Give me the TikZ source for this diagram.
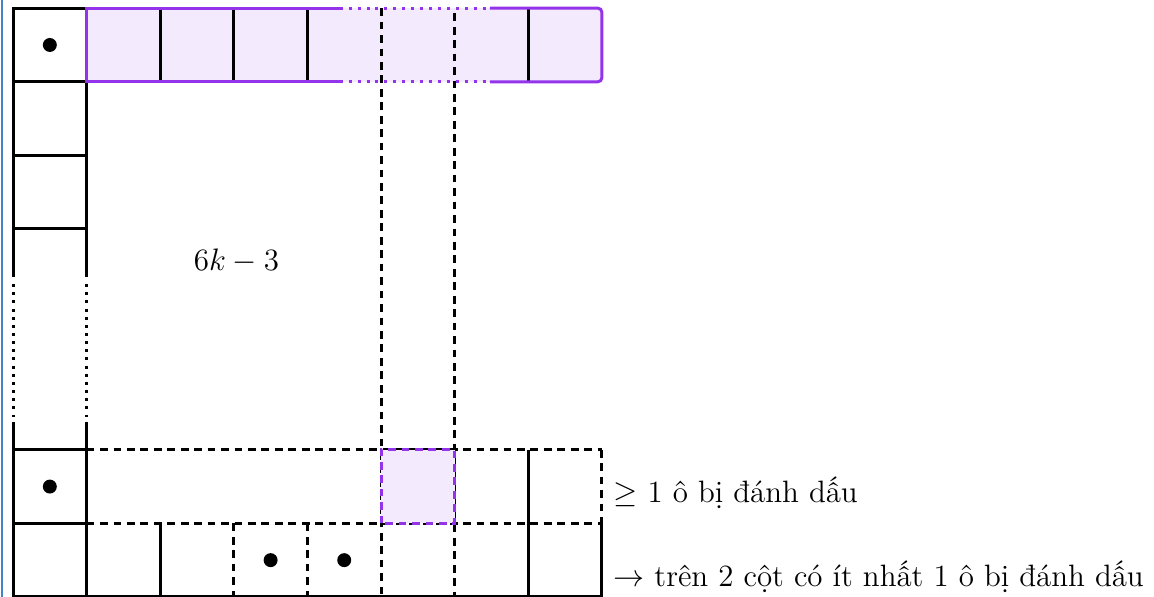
\documentclass[tikz,border=0pt]{standalone}
\definecolor{purp}{RGB}{147,51,234}
\definecolor{pfill}{RGB}{243,234,253}
\definecolor{sideblue}{RGB}{70,130,200}
\begin{document}
\begin{tikzpicture}[x=1cm,y=1cm,
  ln/.style={line width=1.15pt, black},
  dsh/.style={line width=1.15pt, dash pattern=on 3pt off 2.2pt},
  pln/.style={line width=1.15pt, draw=purp},
  mk/.style={circle, fill=black, inner sep=0pt, minimum size=5.4pt},
  lbl/.style={font=\fontsize{11.95}{14}\selectfont, inner sep=0pt}]
\useasboundingbox (-0.177,0) rectangle (15.503,8.111);
% left blue edge
\draw[sideblue, line width=0.8pt] (-0.15,0) -- (-0.15,8.111);
% top purple row
\fill[pfill] (1,7) rectangle (8,8);
% left column
\draw[ln] (0,7) rectangle (1,8);
\draw[ln] (0,7) -- (0,4.35) (1,7) -- (1,4.35);
\draw[ln] (0,6) -- (1,6) (0,5) -- (1,5);
\draw[ln, dash pattern=on 1.15pt off 2pt] (0,4.25) -- (0,2.45) (1,4.25) -- (1,2.45);
\draw[ln] (0,2.38) -- (0,0) (1,2.38) -- (1,0);
\draw[ln] (0,2) -- (1,2) (0,1) -- (1,1) (0,0) -- (8,0);
% top row internal lines
\draw[ln] (2,7) -- (2,8) (3,7) -- (3,8) (4,7) -- (4,8) (7,7) -- (7,8);
% purple border
\draw[pln] (4.44,8) -- (1,8) -- (1,7) -- (4.44,7);
\draw[pln, dash pattern=on 1.15pt off 2.3pt] (4.44,8) -- (6.48,8) (4.44,7) -- (6.48,7);
\draw[pln, rounded corners=1.5pt] (6.48,8) -- (8,8) -- (8,7) -- (6.48,7);
% dashed columns
\draw[dsh] (5,8) -- (5,0) (6,7.93) -- (6,0);
% bottom rows
\draw[dsh] (1,2) -- (8,2) (1,1) -- (8,1) (8,2) -- (8,1);
\draw[dsh] (3,1) -- (3,0) (4,1) -- (4,0);
\draw[ln] (2,1) -- (2,0) (7,2) -- (7,0) (8,1) -- (8,0);
% highlighted cell
\fill[pfill] (5,1) rectangle (6,2);
\draw[pln, dsh] (5,1) rectangle (6,2);
% marks
\node[mk] (m1) at (0.5,7.5) {};
\node[mk] (m2) at (0.5,1.5) {};
\node[mk] (m3) at (3.5,0.5) {};
\node[mk] (m4) at (4.5,0.5) {};
% labels
\node[lbl, anchor=base west] (t0) at (2.45,4.44) {$6k-3$};
\node[lbl, anchor=base west] (t1) at (8.15,1.28) {$\geq$ 1 ô bị đánh dấu};
\node[lbl, anchor=base west] (t2) at (8.15,0.14) {$\rightarrow$ trên 2 cột có ít nhất 1 ô bị đánh dấu};
\end{tikzpicture}
\end{document}
